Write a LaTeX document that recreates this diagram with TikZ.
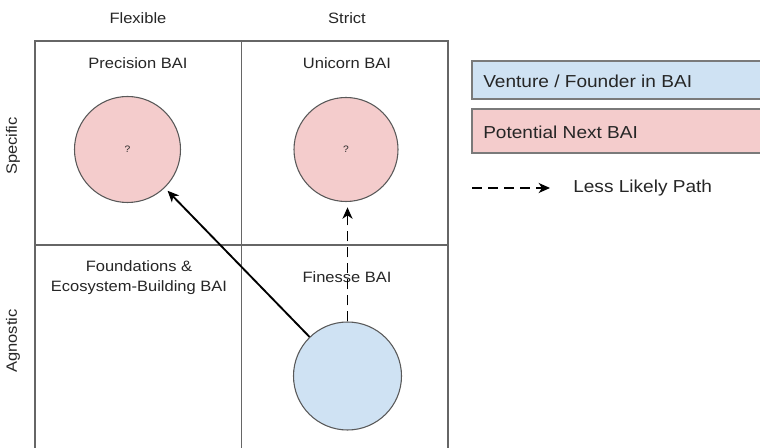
\documentclass[tikz,border=0pt]{standalone}
\usepackage{fontspec}
\setmainfont{Liberation Sans}[FakeStretch=1.1]
\usetikzlibrary{arrows.meta}

\definecolor{gridline}{HTML}{666666}
\definecolor{ventureblue}{HTML}{CFE2F3}
\definecolor{nextpink}{HTML}{F4CCCC}
\definecolor{rimgray}{HTML}{595959}
\definecolor{legendrim}{HTML}{7A7A7A}
\definecolor{labeltext}{HTML}{262626}

\tikzset{
  label/.style={text=labeltext, font=\fontsize{11.25}{13.5}\selectfont, align=center, inner sep=0pt},
  axislabel/.style={label, rotate=90},
  legendtext/.style={text=labeltext, font=\fontsize{13}{15.5}\selectfont, anchor=west, inner sep=0pt},
  bubble/.style={circle, draw=rimgray, line width=0.8pt, inner sep=0pt,
                 text=labeltext, font=\fontsize{7}{8}\selectfont},
  pinkbubble/.style={bubble, fill=nextpink},
  bluebubble/.style={bubble, fill=ventureblue},
  legendbox/.style={draw=legendrim, line width=1.1pt},
  path arrow/.style={line width=1.4pt, -{Stealth[length=8.5pt,width=7.5pt,inset=2.5pt]}},
  unlikely/.style={path arrow, dash pattern=on 7.5pt off 4.5pt},
}

\begin{document}
\begin{tikzpicture}[x=0.75pt, y=-0.75pt]
  \clip (0,0) rectangle (760,448);
  \fill[white] (0,0) rectangle (760,448);

  % 2x2 quadrant grid (open at the bottom)
  \draw[gridline, line width=1pt]
    (35,450) -- (35,41) -- (448,41) -- (448,450)
    (241.5,41) -- (241.5,450)
    (35,245) -- (448,245);

  % column and row headings
  \node[label] (flex)   at (138,18) {Flexible};
  \node[label] (strict) at (347,18) {Strict};
  \node[axislabel] (spec) at (13,146) {Specific};
  \node[axislabel] (agn)  at (13,341) {Agnostic};

  % quadrant titles
  \node[label] (prec)  at (138,63.5) {Precision BAI};
  \node[label] (unic)  at (347,63.5) {Unicorn BAI};
  \node[label] (found) at (139,278) {Foundations \&\\[1.5pt]Ecosystem-Building BAI};
  \node[label] (fin)   at (347,277) {Finesse BAI};

  % bubbles
  \node[pinkbubble, minimum size=79.5pt] (nextL) at (127.5,149.5) {?};
  \node[pinkbubble, minimum size=78pt]   (nextR) at (346,149.5) {?};
  \node[bluebubble, minimum size=81pt]   (now)   at (347.5,376) {};

  % transitions
  \draw[path arrow, shorten >=3pt] (now) -- (nextL);
  \draw[unlikely, shorten >=4pt] (now.north) -- (now.north |- nextR.south);

  % legend
  \draw[legendbox, fill=ventureblue] (472,61) rectangle (764,99);
  \node[legendtext] (lv) at (483,81) {Venture / Founder in BAI};
  \draw[legendbox, fill=nextpink] (472,109) rectangle (764,153);
  \node[legendtext] (lp) at (483,132) {Potential Next BAI};
  \coordinate (ls) at (472,188);
  \coordinate (le) at (550,188);
  \draw[unlikely] (ls) -- (le);
  \node[legendtext] (ll) at (573,188) {Less Likely Path};
\end{tikzpicture}
\end{document}
